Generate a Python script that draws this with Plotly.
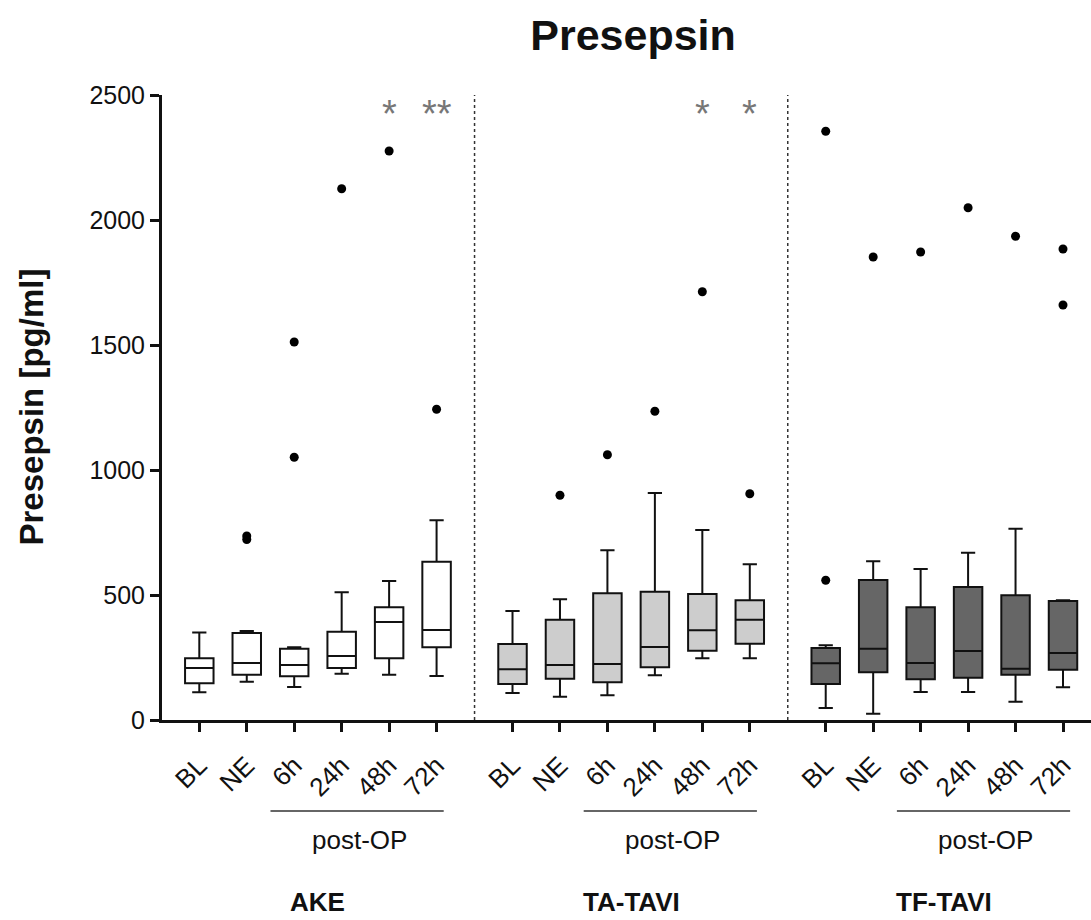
import plotly.graph_objects as go

# ---------------- data ----------------
timepoints = ["BL", "NE", "6h", "24h", "48h", "72h"]
groups = ["AKE", "TA-TAVI", "TF-TAVI"]
group_fill = ["#ffffff", "#cdcdcd", "#666666"]

ake_low = [111, 153, 132, 185, 181, 176]
ake_q1 = [147, 181, 175, 208, 247, 291]
ake_med = [208, 228, 220, 256, 392, 360]
ake_q3 = [247, 348, 285, 353, 451, 633]
ake_high = [350, 356, 291, 511, 556, 799]
ake_out = [[], [722, 736], [1051, 1512], [2125], [2276], [1243]]

ta_low = [108, 93, 99, 179, 247, 247]
ta_q1 = [144, 165, 151, 211, 277, 305]
ta_med = [203, 220, 224, 292, 359, 401]
ta_q3 = [304, 401, 507, 513, 504, 479]
ta_high = [436, 483, 679, 908, 760, 623]
ta_out = [[], [899], [1061], [1235], [1713], [905]]

tf_low = [48, 25, 112, 112, 73, 131]
tf_q1 = [144, 191, 163, 169, 181, 201]
tf_med = [227, 285, 228, 276, 205, 268]
tf_q3 = [288, 560, 451, 532, 499, 476]
tf_high = [299, 635, 604, 669, 765, 479]
tf_out = [[559, 2355], [1852], [1872], [2049], [1935], [1660, 1884]]

lows = [ake_low, ta_low, tf_low]
q1s = [ake_q1, ta_q1, tf_q1]
meds = [ake_med, ta_med, tf_med]
q3s = [ake_q3, ta_q3, tf_q3]
highs = [ake_high, ta_high, tf_high]
outs = [ake_out, ta_out, tf_out]

# significance marks: (group index, timepoint index, text)
sig_marks = [(0, 4, "*"), (0, 5, "**"), (1, 4, "*"), (1, 5, "*")]

# ---------------- layout helpers ----------------
GROUP_STEP = 6.6
FONT = "Liberation Sans, Arial, sans-serif"


def pos(g, t):
    return g * GROUP_STEP + t


fig = go.Figure()

tickvals, ticktext = [], []
for g in range(len(groups)):
    for t in range(len(timepoints)):
        x = pos(g, t)
        tickvals.append(x)
        ticktext.append(timepoints[t])
        fig.add_trace(go.Box(
            x=[x], q1=[q1s[g][t]], median=[meds[g][t]], q3=[q3s[g][t]],
            lowerfence=[lows[g][t]], upperfence=[highs[g][t]],
            width=0.6, whiskerwidth=0.5, boxpoints=False,
            fillcolor=group_fill[g], line=dict(color="#111111", width=2),
            showlegend=False, hoverinfo="skip"))
        if outs[g][t]:
            fig.add_trace(go.Scatter(
                x=[x] * len(outs[g][t]), y=outs[g][t], mode="markers",
                marker=dict(color="black", size=9), showlegend=False,
                hoverinfo="skip", cliponaxis=False))

# separators
for g in range(1, len(groups)):
    xs = pos(g, 0) - (GROUP_STEP - 5) / 2
    fig.add_shape(type="line", xref="x", yref="y", x0=xs, x1=xs, y0=0, y1=2500,
                  line=dict(color="#333333", width=1.5, dash="dot"))

# significance asterisks
for g, t, s in sig_marks:
    fig.add_annotation(x=pos(g, t), y=2425, xref="x", yref="y", text=s,
                       showarrow=False, font=dict(family=FONT, size=38, color="#777777"),
                       yanchor="middle")

# post-OP lines and labels, group labels
for g in range(len(groups)):
    x0 = pos(g, 2) - 0.5
    x1 = pos(g, 5) + 0.15
    fig.add_shape(type="line", xref="x", yref="paper", x0=x0, x1=x1,
                  y0=-0.1456, y1=-0.1456, line=dict(color="#333333", width=1.5))
    fig.add_annotation(x=(x0 + x1) / 2 + 0.05, y=-0.192, xref="x", yref="paper",
                       text="post-OP", showarrow=False, yanchor="middle",
                       font=dict(family=FONT, size=26, color="#111111"))
    fig.add_annotation(x=pos(g, 2.5), y=-0.291, xref="x", yref="paper",
                       text="<b>" + groups[g] + "</b>", showarrow=False, yanchor="middle",
                       font=dict(family=FONT, size=26, color="#111111"))

# y-axis title
fig.add_annotation(x=-0.141, y=0.5, xref="paper", yref="paper",
                   text="<b>Presepsin [pg/ml]</b>", textangle=-90, showarrow=False,
                   xanchor="center", yanchor="middle",
                   font=dict(family=FONT, size=33, color="#111111"))

fig.update_layout(
    width=1091, height=920,
    margin=dict(l=162, r=0, t=95, b=200),
    plot_bgcolor="white", paper_bgcolor="white",
    title=dict(text="<b>Presepsin</b>", x=633 / 1091, xref="container", xanchor="center",
               y=1 - 35 / 920, yref="container", yanchor="middle",
               font=dict(family=FONT, size=43, color="#111111")),
    xaxis=dict(range=[-0.786, 18.79], tickvals=tickvals, ticktext=ticktext,
               tickangle=-45, ticks="outside", ticklen=9, tickwidth=3, tickcolor="#111111",
               ticklabelstandoff=8,
               showline=True, linewidth=3, linecolor="#111111", showgrid=False,
               zeroline=False, tickfont=dict(family=FONT, size=26, color="#111111")),
    yaxis=dict(range=[0, 2500], tickvals=[0, 500, 1000, 1500, 2000, 2500],
               ticks="outside", ticklen=9, tickwidth=3, tickcolor="#111111",
               showline=True, linewidth=3, linecolor="#111111", showgrid=False,
               zeroline=False, tickfont=dict(family=FONT, size=25, color="#111111")),
)

fig.write_html("out.html")
